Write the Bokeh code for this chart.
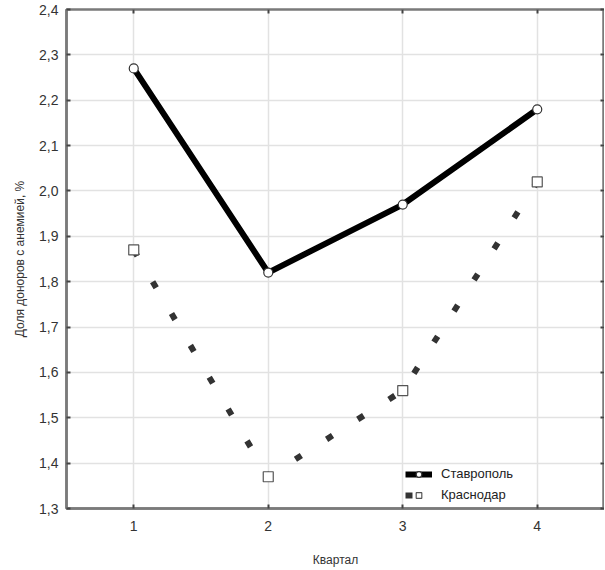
from bokeh.plotting import figure
from bokeh.models import (Range1d, FixedTicker, CustomJSTickFormatter, LinearAxis,
                          Legend, LegendItem)
from bokeh.embed import file_html
from bokeh.resources import INLINE

quarters = [1, 2, 3, 4]
x_tick_labels = ["1", "2", "3", "4"]
stavropol = [2.27, 1.82, 1.97, 2.18]
krasnodar = [1.87, 1.37, 1.56, 2.02]
y_ticks = [1.3, 1.4, 1.5, 1.6, 1.7, 1.8, 1.9, 2.0, 2.1, 2.2, 2.3, 2.4]
y_tick_labels = ["1,3", "1,4", "1,5", "1,6", "1,7", "1,8", "1,9", "2,0", "2,1", "2,2", "2,3", "2,4"]
series_names = ["Ставрополь", "Краснодар"]
x_title = "Квартал"
y_title = "Доля доноров с анемией, %"

FONT = "Liberation Sans"

p = figure(width=604, height=569, output_backend="svg", toolbar_location=None,
           x_range=Range1d(0.5, 4.5), y_range=Range1d(1.3, 2.4),
           min_border_left=66, min_border_right=0, min_border_top=9, min_border_bottom=10,
           x_axis_label=x_title, y_axis_label=y_title)
p.background_fill_color = "white"
p.border_fill_color = "white"
p.outline_line_color = "#7a7a7a"
p.outline_line_width = 2.5

JS = """
for (let i = 0; i < tv.length; i++) { if (Math.abs(tv[i]-tick) < 1e-6) return lb[i]; }
return "";
"""
x_fmt = CustomJSTickFormatter(args=dict(tv=quarters, lb=x_tick_labels), code=JS)
y_fmt = CustomJSTickFormatter(args=dict(tv=y_ticks, lb=y_tick_labels), code=JS)
blank = CustomJSTickFormatter(code="return '';")

for ax, ticks, fmt in ((p.xaxis[0], quarters, x_fmt), (p.yaxis[0], y_ticks, y_fmt)):
    ax.ticker = FixedTicker(ticks=ticks)
    ax.formatter = fmt
    ax.major_tick_in = 4
    ax.major_tick_out = 0
    ax.minor_tick_line_color = None
    ax.major_tick_line_color = "#444444"
    ax.major_tick_line_width = 2
    ax.axis_line_color = "#7a7a7a"
    ax.axis_line_width = 2.5
    ax.major_label_text_font = FONT
    ax.major_label_text_font_size = "14px"
    ax.major_label_text_color = "#333333"
    ax.axis_label_text_font = FONT
    ax.axis_label_text_font_size = "12px"
    ax.axis_label_text_font_style = "normal"
    ax.axis_label_text_color = "#333333"

p.xaxis[0].major_label_standoff = 12
p.xaxis[0].axis_label_standoff = 19
p.yaxis[0].major_label_standoff = 8
p.yaxis[0].axis_label_standoff = 9

top_ax = LinearAxis(ticker=FixedTicker(ticks=quarters), formatter=blank,
                    major_tick_in=4, major_tick_out=0, major_tick_line_color="#444444",
                    major_tick_line_width=2, minor_tick_line_color=None,
                    axis_line_color=None, major_label_standoff=0)
right_ax = LinearAxis(ticker=FixedTicker(ticks=y_ticks), formatter=blank,
                      major_tick_in=4, major_tick_out=0, major_tick_line_color="#444444",
                      major_tick_line_width=2, minor_tick_line_color=None,
                      axis_line_color=None, major_label_standoff=0)
p.add_layout(top_ax, "above")
p.add_layout(right_ax, "right")

p.xgrid.ticker = FixedTicker(ticks=quarters)
p.ygrid.ticker = FixedTicker(ticks=y_ticks)
p.xgrid.grid_line_color = "#e2e2e2"
p.ygrid.grid_line_color = "#e2e2e2"
p.xgrid.grid_line_width = 1.5
p.ygrid.grid_line_width = 1.5

l1 = p.line(quarters, stavropol, line_color="black", line_width=6)
m1 = p.scatter(quarters, stavropol, marker="circle", size=9, fill_color="white",
               line_color="#333333", line_width=1.2)
l2 = p.line(quarters, krasnodar, line_color="#333333", line_width=6,
            line_dash="7 30", line_cap="butt")
m2 = p.scatter(quarters, krasnodar, marker="square", size=10, fill_color="white",
               line_color="#555555", line_width=1.2)

legend = Legend(items=[LegendItem(label=series_names[0], renderers=[l1, m1]),
                       LegendItem(label=series_names[1], renderers=[l2, m2])],
                location=(339, 6))
legend.border_line_color = None
legend.background_fill_color = "white"
legend.background_fill_alpha = 1
legend.label_text_font = FONT
legend.label_text_font_size = "13px"
legend.label_text_color = "#222222"
legend.glyph_width = 27
legend.glyph_height = 14
legend.label_standoff = 9
legend.spacing = 6
legend.padding = 4
legend.margin = 0
p.add_layout(legend, "center")

open("out.html", "w").write(file_html(p, INLINE))
